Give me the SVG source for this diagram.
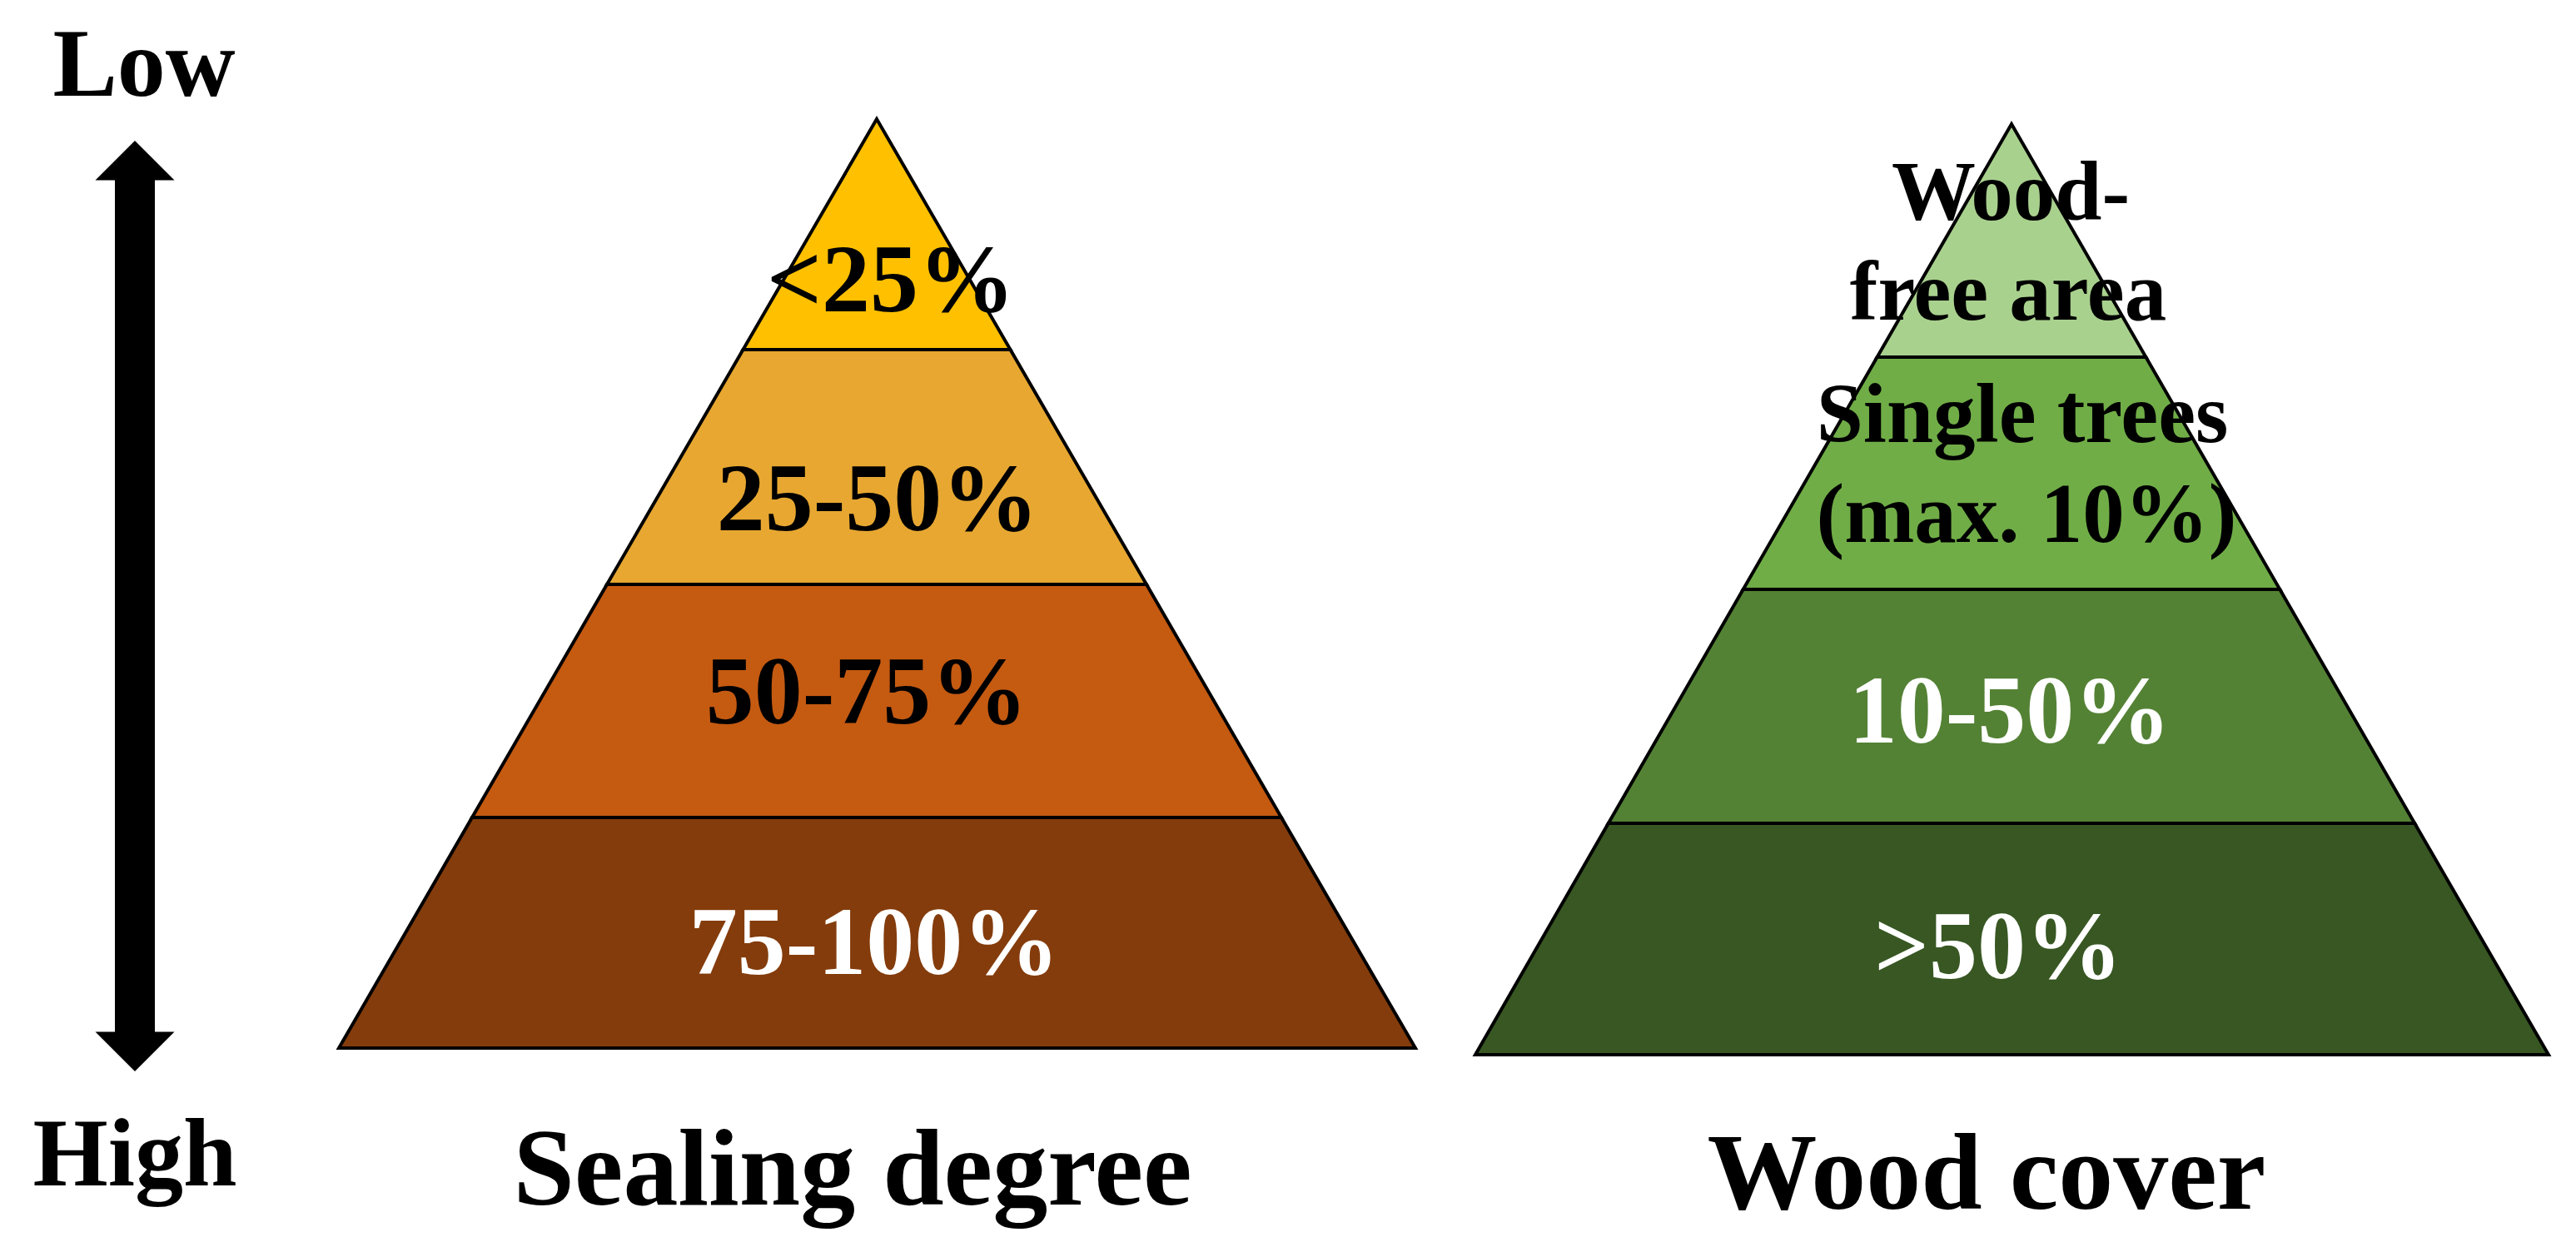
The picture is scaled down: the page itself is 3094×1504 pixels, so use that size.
<svg xmlns="http://www.w3.org/2000/svg" width="3094" height="1504" viewBox="0 0 3094 1504">
<style>
text{font-family:"Liberation Serif","Times New Roman",serif;font-weight:bold;text-anchor:middle;fill:#000}
.w{fill:#fff}
.lbl{font-size:116px}
.sm{font-size:101px}
.ttl{font-size:132px}
.band{stroke:#000;stroke-width:4;stroke-linejoin:miter}
</style>
<rect width="3094" height="1504" fill="#fff"/>
<g id="axis">
<text x="173" y="115" style="font-size:116px">Low</text>
<text x="162" y="1424" style="font-size:116px">High</text>
<polygon points="162,169 209.5,216.5 186,216.5 186,1239.5 209.5,1239.5 162,1287 114.5,1239.5 138,1239.5 138,216.5 114.5,216.5" fill="#000"/>
</g>
<g id="sealing">
<polygon class="band" fill="#843C0C" points="567,982 1539,982 1700,1259 407,1259"/>
<polygon class="band" fill="#C55A11" points="729,702 1377,702 1539,982 567,982"/>
<polygon class="band" fill="#E7A731" points="892.5,420 1213.5,420 1377,702 729,702"/>
<polygon class="band" fill="#FFC000" points="1053,143 1213.5,420 892.5,420"/>
<text class="lbl" x="1070" y="374">&lt;25%</text>
<text class="lbl" x="1054" y="637">25-50%</text>
<text class="lbl" x="1041" y="869">50-75%</text>
<text class="lbl w" x="1050" y="1170">75-100%</text>
<text class="ttl" x="1024" y="1447">Sealing degree</text>
</g>
<g id="wood">
<polygon class="band" fill="#385723" points="1931.8,989 2900.2,989 3061,1267 1772,1267"/>
<polygon class="band" fill="#548235" points="2093.7,708 2738.3,708 2900.2,989 1931.8,989"/>
<polygon class="band" fill="#70AD47" points="2254.6,429 2577.4,429 2738.3,708 2093.7,708"/>
<polygon class="band" fill="#A9D18E" points="2416,149 2577.4,429 2254.6,429"/>
<text class="sm" x="2415" y="264">Wood-</text>
<text class="sm" x="2412" y="384">free area</text>
<text class="sm" x="2429" y="531">Single trees</text>
<text class="sm" x="2434" y="651">(max. 10%)</text>
<text class="lbl w" x="2414" y="892">10-50%</text>
<text class="lbl w" x="2400" y="1175">&gt;50%</text>
<text class="ttl" x="2386" y="1452">Wood cover</text>
</g>
</svg>
